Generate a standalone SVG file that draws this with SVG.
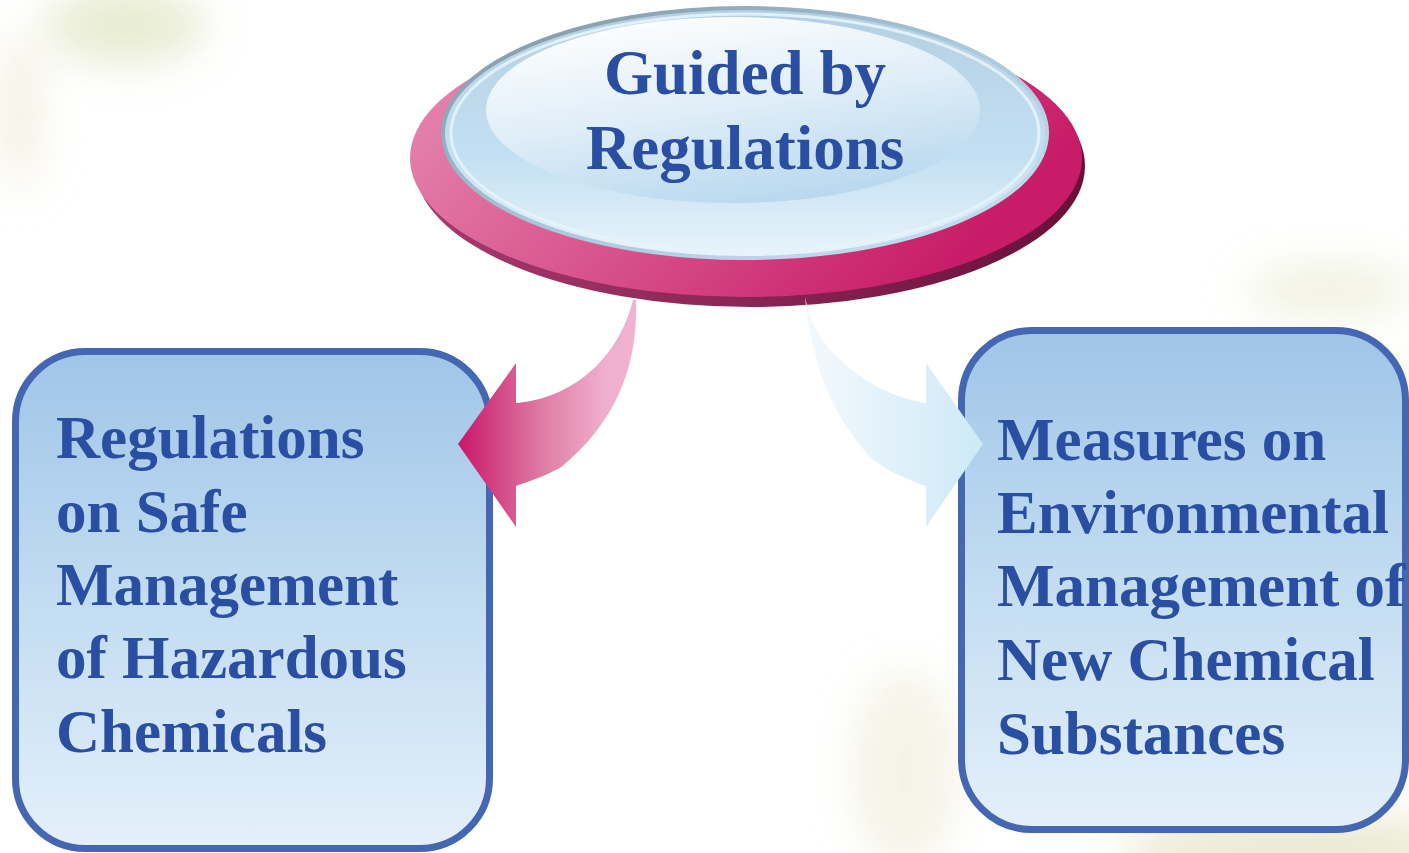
<svg xmlns="http://www.w3.org/2000/svg" width="1409" height="853" viewBox="0 0 1409 853">
<defs>
  <style>
    .lbl { font-family: "Liberation Serif", "Times New Roman", serif; font-weight: bold; fill: #2a4ea1; }
    .box { stroke: #4567b1; stroke-width: 7; fill: url(#boxGrad); }
  </style>
  <filter id="blur" x="-50%" y="-50%" width="200%" height="200%"><feGaussianBlur stdDeviation="20"/></filter>
  <linearGradient id="boxGrad" x1="0" y1="0" x2="0" y2="1">
    <stop offset="0" stop-color="#9fc5e8"/>
    <stop offset="0.5" stop-color="#c2dcf1"/>
    <stop offset="1" stop-color="#e4f0fa"/>
  </linearGradient>
  <linearGradient id="pinkTop" x1="0" y1="0" x2="1" y2="0.4">
    <stop offset="0" stop-color="#e88fb6"/>
    <stop offset="0.5" stop-color="#d9588f"/>
    <stop offset="1" stop-color="#c81c68"/>
  </linearGradient>
  <linearGradient id="pinkRim" x1="0" y1="0" x2="1" y2="0">
    <stop offset="0" stop-color="#a83a6e"/>
    <stop offset="1" stop-color="#6a0f3a"/>
  </linearGradient>
  <linearGradient id="blueBand" x1="0" y1="0" x2="0" y2="1">
    <stop offset="0" stop-color="#b5cfe2"/>
    <stop offset="0.6" stop-color="#c3e0f2"/>
    <stop offset="1" stop-color="#e9f4fb"/>
  </linearGradient>
  <linearGradient id="blueInner" x1="0.2" y1="0" x2="0.6" y2="1">
    <stop offset="0" stop-color="#ffffff"/>
    <stop offset="0.5" stop-color="#e0eef8"/>
    <stop offset="1" stop-color="#b9d8ee"/>
  </linearGradient>
  <linearGradient id="rimStroke" x1="0" y1="0" x2="1" y2="1">
    <stop offset="0" stop-color="#7d939e"/>
    <stop offset="0.5" stop-color="#a9c6da"/>
    <stop offset="1" stop-color="#c8e4f4"/>
  </linearGradient>
  <linearGradient id="arrowPink" x1="458" y1="0" x2="640" y2="0" gradientUnits="userSpaceOnUse">
    <stop offset="0" stop-color="#c9166a"/>
    <stop offset="0.45" stop-color="#de7aa3"/>
    <stop offset="0.8" stop-color="#efaecd"/>
    <stop offset="1" stop-color="#f0b4d2"/>
  </linearGradient>
  <linearGradient id="arrowBlue" x1="803" y1="0" x2="985" y2="0" gradientUnits="userSpaceOnUse">
    <stop offset="0" stop-color="#f4f9fd"/>
    <stop offset="1" stop-color="#cde9f7"/>
  </linearGradient>
</defs>

<rect width="1409" height="853" fill="#ffffff"/>
<g id="background" filter="url(#blur)" opacity="0.5">
  <ellipse cx="125" cy="25" rx="80" ry="40" fill="#d3daa8"/>
  <ellipse cx="20" cy="110" rx="25" ry="80" fill="#ebe6cc"/>
  <ellipse cx="1330" cy="290" rx="85" ry="28" fill="#e4e6c4"/>
  <ellipse cx="1395" cy="560" rx="35" ry="200" fill="#dedeb8"/>
  <ellipse cx="1300" cy="850" rx="180" ry="35" fill="#d6d5a6"/>
  <ellipse cx="905" cy="770" rx="55" ry="100" fill="#ebe9d0"/>
</g>

<g id="node-guided">
  <ellipse cx="750" cy="166" rx="335" ry="141" fill="url(#pinkRim)"/>
  <ellipse cx="746" cy="158" rx="336" ry="139" fill="url(#pinkTop)"/>
  <ellipse cx="745" cy="133" rx="302" ry="125" fill="url(#blueBand)" stroke="url(#rimStroke)" stroke-width="4"/>
  <ellipse cx="745" cy="133" rx="294" ry="119" fill="none" stroke="#e6f3fb" stroke-width="3" opacity="0.9"/>
  <ellipse cx="733" cy="110" rx="247" ry="93" fill="url(#blueInner)"/>
  <text class="lbl" x="745" y="94" font-size="63" text-anchor="middle">Guided by</text>
  <text class="lbl" x="745" y="169" font-size="63" text-anchor="middle">Regulations</text>
</g>

<g id="node-left">
  <rect class="box" x="15.5" y="351.5" width="474" height="497" rx="70"/>
  <text class="lbl" font-size="61">
    <tspan x="56" y="458">Regulations</tspan>
    <tspan x="56" y="532">on Safe</tspan>
    <tspan x="56" y="605">Management</tspan>
    <tspan x="56" y="678">of Hazardous</tspan>
    <tspan x="56" y="752">Chemicals</tspan>
  </text>
</g>

<g id="node-right">
  <rect class="box" x="961.5" y="330.5" width="444" height="499" rx="70"/>
  <text class="lbl" font-size="61">
    <tspan x="997" y="460">Measures on</tspan>
    <tspan x="997" y="533">Environmental</tspan>
    <tspan x="997" y="606">Management of</tspan>
    <tspan x="997" y="680">New Chemical</tspan>
    <tspan x="997" y="754">Substances</tspan>
  </text>
</g>

<g id="connectors">
  <path id="arrow-left" d="M636,300 C638,360 620,420 560,468 C545,476 530,481 516,486 L516,527 L458,444 L516,363 L516,403 C560,400 615,370 633,300 Z" fill="url(#arrowPink)"/>
  <path id="arrow-right" d="M805,297 C812,370 835,420 873,460 C890,472 908,480 926,486 L926,527 L983,444 L926,363 L926,403 C895,398 865,385 835,355 C818,338 810,320 805,297 Z" fill="url(#arrowBlue)"/>
</g>
</svg>
